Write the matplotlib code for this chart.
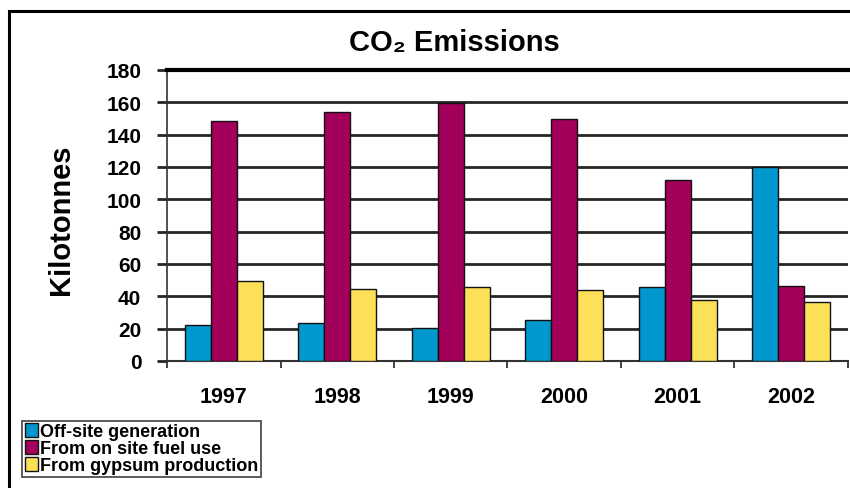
import matplotlib
matplotlib.use('Agg')
import matplotlib.pyplot as plt
import matplotlib.patches as mpatches
import numpy as np

plt.rcParams['font.family'] = ['Liberation Sans', 'DejaVu Sans']
plt.rcParams['font.weight'] = 'bold'

# data
years = ['1997', '1998', '1999', '2000', '2001', '2002']
offsite = [22.5, 23.3, 20.2, 25.4, 46.0, 119.8]
onsite_fuel = [148.2, 153.8, 159.5, 149.7, 112.1, 46.6]
gypsum = [49.7, 44.3, 45.7, 43.9, 37.9, 36.7]
series_names = ['Off-site generation', 'From on site fuel use', 'From gypsum production']
colors = ['#0098CE', '#A3005B', '#FCE058']

fig = plt.figure(figsize=(8.5, 4.89), dpi=100)
ax = fig.add_axes([167 / 850, 1 - 362 / 489, 681 / 850, 291 / 489])

x = np.arange(len(years))
w = 0.23
for k, vals in enumerate([offsite, onsite_fuel, gypsum]):
    ax.bar(x + (k - 1) * w, vals, w, color=colors[k], edgecolor='#111111',
           linewidth=1.0, label=series_names[k], zorder=3)

ax.set_xlim(-0.5, len(years) - 0.5)
ax.set_ylim(0, 180)
ax.set_yticks(np.arange(0, 181, 20))
ax.yaxis.grid(True, color='#262626', linewidth=2, zorder=0)
ax.set_axisbelow(True)

# category labels in the middle, tick marks at the boundaries
ax.set_xticks(x)
ax.set_xticklabels(years, fontsize=15.5, fontweight='bold')
ax.set_xticks(np.arange(-0.5, len(years)), minor=True)
ax.tick_params(axis='x', which='major', length=0, pad=18)
ax.tick_params(axis='x', which='minor', length=5, width=1.2, color='#222222', direction='out')
ax.tick_params(axis='y', length=7.5, width=2, color='#262626', labelsize=15, pad=11)
for lab in ax.get_yticklabels():
    lab.set_fontweight('bold')

ax.spines['right'].set_visible(False)
ax.spines['top'].set_linewidth(3)
ax.spines['top'].set_color('black')
ax.spines['left'].set_linewidth(1.2)
ax.spines['left'].set_color('#333333')
ax.spines['bottom'].set_linewidth(1.5)
ax.spines['bottom'].set_color('#333333')

ax.set_ylabel('Kilotonnes', fontsize=21, fontweight='bold')
ax.yaxis.set_label_coords(-0.135, 0.49)

fig.text(0.535, 0.912, 'CO\u2082 Emissions', ha='center', va='center',
         fontsize=21, fontweight='bold')

leg = ax.legend(loc='lower left', bbox_to_anchor=(22 / 850, 11 / 489),
                bbox_transform=fig.transFigure, fontsize=13, frameon=True,
                fancybox=False, handlelength=0.75, handleheight=0.75,
                handletextpad=0.1, borderpad=0.15, labelspacing=0.0,
                borderaxespad=0)
leg.get_frame().set_edgecolor('#222222')
leg.get_frame().set_linewidth(1.3)
for t in leg.get_texts():
    t.set_fontweight('bold')

# outer frame of the picture
frame = mpatches.Rectangle((9 / 850, -0.1), 1.2, 0.1 + 1 - 12 / 489,
                           transform=fig.transFigure, fill=False,
                           edgecolor='black', linewidth=2.2)
fig.patches.append(frame)

fig.savefig('out.png', dpi=100)
